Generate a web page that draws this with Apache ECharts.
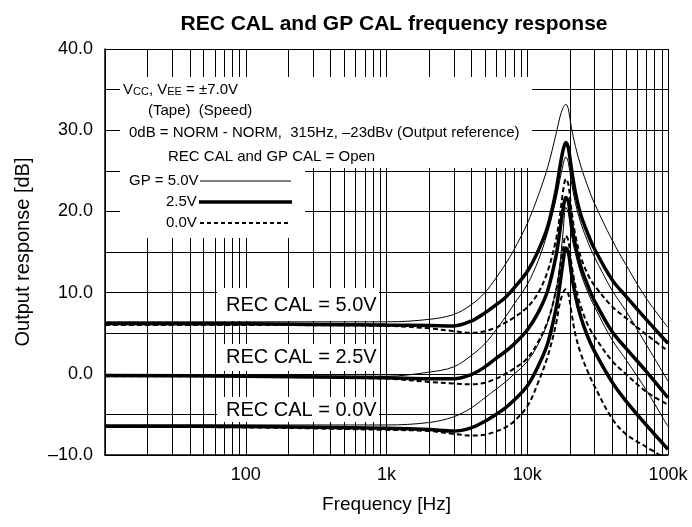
<!DOCTYPE html>
<html><head><meta charset="utf-8">
<script src="https://cdn.jsdelivr.net/npm/echarts@6/dist/echarts.min.js"></script>
<style>html,body{margin:0;padding:0;background:#fff}#c{width:692px;height:527px}</style>
</head><body><div id="c"></div>
<script>
// ---- data ----
const freq = [10, 100, 1000, 2000, 3000, 4000, 5000, 6000, 7000, 8000, 10000, 12000, 14000, 16000, 17000, 18000, 18800, 19600, 20500, 22000, 24000, 27000, 30000, 40000, 50000, 70000, 100000];
// REC CAL = 5.0V
const rec50_gp50 = [6.4, 6.4, 6.4, 6.7, 7.3, 8.5, 10.0, 11.8, 13.5, 15.2, 18.5, 22.0, 25.5, 29.5, 31.5, 32.8, 33.2, 32.6, 30.5, 28.0, 25.6, 23.0, 21.0, 16.5, 13.5, 9.3, 5.7];
const rec50_gp25 = [6.2, 6.15, 6.0, 5.95, 5.9, 6.5, 7.5, 8.5, 9.4, 10.5, 12.6, 15.2, 18.2, 22.5, 25.3, 27.6, 28.5, 27.8, 25.5, 22.3, 19.6, 17.2, 15.4, 11.6, 9.6, 6.7, 3.75];
const rec50_gp00 = [6.0, 6.0, 5.9, 5.6, 5.25, 5.05, 5.25, 5.7, 6.3, 6.9, 8.2, 10.0, 12.7, 16.5, 19.3, 22.6, 24.0, 23.3, 20.5, 17.0, 14.4, 12.2, 10.9, 8.3, 6.9, 4.85, 2.8];
// REC CAL = 2.5V
const rec25_gp50 = [-0.1, -0.2, -0.3, 0.2, 0.85, 2.25, 3.7, 5.4, 7.0, 8.5, 11.0, 14.0, 17.5, 21.5, 23.8, 25.8, 26.7, 26.0, 23.8, 21.0, 18.6, 16.2, 14.4, 10.3, 7.8, 3.6, -0.9];
const rec25_gp25 = [-0.2, -0.3, -0.5, -0.6, -0.6, -0.1, 0.85, 1.9, 2.75, 3.6, 5.4, 7.6, 10.3, 14.5, 17.4, 20.4, 21.7, 21.2, 18.8, 15.8, 13.2, 10.8, 9.0, 5.2, 3.2, 0.3, -2.95];
const rec25_gp00 = [-0.3, -0.3, -0.6, -1.0, -1.2, -1.3, -1.1, -0.6, 0.0, 0.6, 1.9, 4.0, 6.5, 10.2, 12.8, 15.6, 17.0, 16.4, 13.8, 10.8, 8.3, 6.0, 4.6, 1.6, 0.0, -2.2, -3.8];
// REC CAL = 0.0V
const rec00_gp50 = [-6.3, -6.3, -6.3, -6.0, -5.3, -4.2, -2.95, -1.9, -1.0, -0.1, 1.5, 3.7, 6.4, 10.3, 13.2, 17.6, 20.5, 19.8, 17.3, 14.8, 12.4, 10.0, 8.3, 4.2, 1.8, -2.0, -6.5];
const rec00_gp25 = [-6.45, -6.5, -6.7, -6.85, -7.05, -6.65, -5.85, -5.0, -4.2, -3.3, -1.5, 1.0, 3.8, 8.0, 10.8, 13.9, 15.5, 15.0, 12.6, 9.6, 7.0, 4.5, 2.8, -1.0, -3.3, -6.3, -9.3];
const rec00_gp00 = [-6.5, -6.6, -6.9, -7.05, -7.4, -7.6, -7.5, -7.1, -6.6, -5.9, -4.0, -1.0, 2.2, 6.1, 8.6, 10.0, 10.4, 9.8, 7.8, 4.8, 2.5, 0.2, -1.5, -5.5, -7.4, -9.0, -10.6];

const xTickValues = [100, 1000, 10000, 100000];
const xTickLabels = ['100', '1k', '10k', '100k'];
const xMinorGrid = [20, 30, 40, 50, 60, 70, 80, 90, 200, 300, 400, 500, 600, 700, 800, 900, 2000, 3000, 4000, 5000, 6000, 7000, 8000, 9000, 20000, 30000, 40000, 50000, 60000, 70000, 80000, 90000];
const yTickValues = [-10, 0, 10, 20, 30, 40];
const yTickLabels = ['\u201310.0', '0.0', '10.0', '20.0', '30.0', '40.0'];
const recLabels = ['REC CAL = 5.0V', 'REC CAL = 2.5V', 'REC CAL = 0.0V'];

// ---- chart ----
const FONT = 'Liberation Sans, Arial, Helvetica, sans-serif';
const chart = echarts.init(document.getElementById('c'), null, {renderer: 'canvas'});
const pairs = arr => freq.map((f, i) => [f, arr[i]]);
const styles = {
  thin: {color: '#000', width: 1, type: 'solid'},
  thick: {color: '#000', width: 3.5, type: 'solid'},
  dash: {color: '#000', width: 2, type: [5, 3]}
};
function curve(name, arr, st) {
  return {name, type: 'line', data: pairs(arr), showSymbol: false, symbol: 'none',
    smooth: 0.35, lineStyle: styles[st], z: 5, silent: true, animation: false};
}

// annotation layer (white boxes over the grid, text, legend samples)
function annotations(params, api) {
  const rect = (x, y, w, h) => ({type: 'rect', shape: {x, y, width: w, height: h}, style: {fill: '#fff'}, z2: 1});
  const text = (t, x, y, size, rich) => ({type: 'text', x, y, z2: 3,
    style: {text: t, fontSize: size, fontFamily: FONT, fill: '#000', verticalAlign: 'middle', align: 'left', rich: rich}});
  const line = (x1, x2, y, st) => ({type: 'line', z2: 3, shape: {x1, y1: y, x2, y2: y},
    style: {stroke: '#000', lineWidth: styles[st].width, lineDash: Array.isArray(styles[st].type) ? [4, 3] : null}});
  const small = {s: {fontSize: 11, fontFamily: FONT, fill: '#000', verticalAlign: 'bottom', padding: [4, 0, 0, 0]}};
  return {type: 'group', children: [
    rect(120, 77, 412, 91), rect(120, 168, 185, 70),
    rect(217, 288, 162, 33), rect(217, 344, 162, 27), rect(217, 397, 162, 25),
    text('V{s|CC}, V{s|EE} = \u00b17.0V', 123, 90, 15, small),
    text('(Tape)  (Speed)', 148, 111, 15),
    text('0dB = NORM - NORM,  315Hz, \u201323dBv (Output reference)', 129, 133, 15),
    text('REC CAL and GP CAL = Open', 168, 157, 15),
    text('GP = 5.0V', 129, 181, 15),
    text('2.5V', 166, 202, 15),
    text('0.0V', 166, 223, 15),
    line(200, 291, 181, 'thin'), line(199, 292, 202, 'thick'), line(200, 290, 223, 'dash'),
    text(recLabels[0], 226, 305, 20), text(recLabels[1], 226, 357, 20), text(recLabels[2], 226, 410, 20)
  ]};
}

const series = [
  {type: 'custom', name: 'minorGrid', z: 1, silent: true, animation: false, clip: false,
   data: xMinorGrid.map(v => [v, 0]), encode: {x: 0, y: 1},
   renderItem: (params, api) => {
     const cs = params.coordSys;
     const x = Math.round(api.coord([api.value(0), 0])[0]) + 0.5;
     return {type: 'line', shape: {x1: x, y1: cs.y, x2: x, y2: cs.y + cs.height},
       style: {stroke: '#000', lineWidth: 1}};
   }},
  {type: 'custom', name: 'notes', z: 3, silent: true, animation: false, clip: false,
   data: [[1000, 0]], encode: {x: 0, y: 1}, renderItem: annotations},
  curve('r50g50', rec50_gp50, 'thin'), curve('r50g25', rec50_gp25, 'thick'), curve('r50g00', rec50_gp00, 'dash'),
  curve('r25g50', rec25_gp50, 'thin'), curve('r25g25', rec25_gp25, 'thick'), curve('r25g00', rec25_gp00, 'dash'),
  curve('r00g50', rec00_gp50, 'thin'), curve('r00g25', rec00_gp25, 'thick'), curve('r00g00', rec00_gp00, 'dash')
];

chart.setOption({
  animation: false,
  backgroundColor: '#fff',
  title: {text: 'REC CAL and GP CAL frequency response', left: 389, top: 9, textAlign: 'center',
    textStyle: {fontFamily: FONT, fontSize: 21, fontWeight: 'bold', color: '#000'}},
  grid: {left: 105, right: 24, top: 49, bottom: 72, show: false},
  xAxis: {type: 'log', logBase: 10, min: 10, max: 100000,
    name: 'Frequency [Hz]', nameLocation: 'middle', nameGap: 40,
    nameTextStyle: {fontFamily: FONT, fontSize: 19, color: '#000'},
    axisLine: {show: true, onZero: false, lineStyle: {color: '#000', width: 1.5}},
    axisTick: {show: false},
    axisLabel: {fontFamily: FONT, fontSize: 18, color: '#000', margin: 11,
      formatter: v => { const i = xTickValues.findIndex(t => Math.abs(t - v) / t < 1e-6); return i >= 0 ? xTickLabels[i] : ''; }},
    splitLine: {show: true, lineStyle: {color: '#000', width: 1}}
  },
  yAxis: {type: 'value', min: -10, max: 40, interval: 10,
    name: 'Output response [dB]', nameLocation: 'middle', nameGap: 72,
    nameTextStyle: {fontFamily: FONT, fontSize: 20, color: '#000'},
    axisLine: {show: true, onZero: false, lineStyle: {color: '#000', width: 1.5}},
    axisTick: {show: false},
    axisLabel: {fontFamily: FONT, fontSize: 18, color: '#000', margin: 12,
      formatter: v => { const i = yTickValues.indexOf(Math.round(v)); return i >= 0 ? yTickLabels[i] : ''; }},
    splitLine: {show: true, lineStyle: {color: '#000', width: 1}},
    minorTick: {show: false, splitNumber: 2},
    minorSplitLine: {show: true, lineStyle: {color: '#000', width: 1}}
  },
  series: series
});
</script></body></html>
